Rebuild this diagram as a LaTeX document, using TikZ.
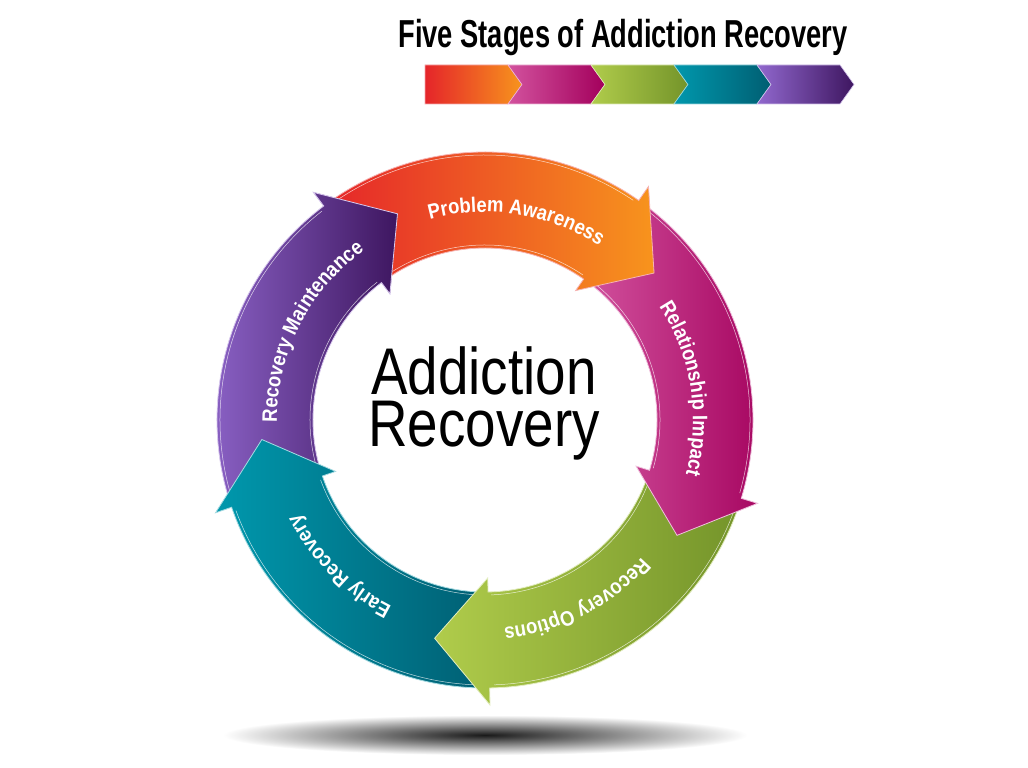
\documentclass[tikz,border=0pt]{standalone}
\usepackage{fontspec}
\setmainfont{Liberation Sans}
\newfontfamily\titlefont{Liberation Sans}[FakeStretch=0.70]
\newfontfamily\hubfont{Liberation Sans}[FakeStretch=0.83]
\newfontfamily\stagefont{Liberation Sans}[FakeStretch=0.88]
\usepackage{xcolor}
\usetikzlibrary{calc, decorations.text}
\definecolor{awareRed}{HTML}{E5252A}
\definecolor{awareOrange}{HTML}{F7941D}
\definecolor{impactLight}{HTML}{D2529E}
\definecolor{impactDark}{HTML}{A3005C}
\definecolor{optionsLight}{HTML}{B0CC4B}
\definecolor{optionsDark}{HTML}{74942A}
\definecolor{earlyLight}{HTML}{0098AD}
\definecolor{earlyDark}{HTML}{005E72}
\definecolor{maintLight}{HTML}{9168CE}
\definecolor{maintDark}{HTML}{3E1660}
\def\Rout{268pt}
\def\Rin{172pt}
\def\Rbarbout{285pt}
\def\Rbarbin{158pt}
\def\Rtip{224pt}
\newcommand{\ringarrow}[4]{%
  \path[stage, left color=#3, right color=#4, draw=#3!35!white]
    (#1:\Rout) arc[start angle=#1, end angle=#2, radius=\Rout]
    -- (#2:\Rbarbout) -- (#2-14:\Rtip) -- (#2:\Rbarbin) -- (#2:\Rin)
    arc[start angle=#2, end angle=#1, radius=\Rin] -- cycle;%
  \draw[stitch] (#1:265pt) arc[start angle=#1, end angle=#2+1, radius=265pt];%
  \draw[stitch] (#1:175pt) arc[start angle=#1, end angle=#2+1, radius=175pt];%
}
\newcommand{\stagelabel}[2]{%
  \path[stagetext={#2}] (#1+45:208pt) arc[start angle=#1+45, end angle=#1-45, radius=208pt];%
}

\begin{document}
\begin{tikzpicture}[x=1pt, y=1pt]
  \tikzset{stage/.style={line width=0.8pt, line join=miter}};
  \tikzset{stitch/.style={white, line width=0.5pt, opacity=0.75}};
  \tikzset{chevron/.style={line width=0.6pt}};
  \tikzset{stagetext/.style={decorate, decoration={text along path, text align=center, text color=white,
    text={|\stagefont\bfseries\fontsize{21}{25}\selectfont|#1}}}};

  \fill[white] (0,0) rectangle (1028,768);
  \useasboundingbox (0,0) rectangle (1028,768);

  % title and chevron bar
  \node (title) [anchor=base, font=\titlefont\bfseries\fontsize{39}{44}\selectfont] at (623,720) {Five Stages of Addiction Recovery};
  \foreach \i/\cl/\cr in {0/awareRed/awareOrange, 1/impactLight/impactDark, 2/optionsLight/optionsDark, 3/earlyLight/earlyDark, 4/maintLight/maintDark} {
    \path[chevron, left color=\cl, right color=\cr, draw=\cl!40!white]
      (425+83*\i,703) -- (508+83*\i,703) -- (522+83*\i,683.5) -- (508+83*\i,664)
      -- (425+83*\i,664) -- ({425+83*\i+14*min(\i,1)},683.5) -- cycle;
  }

  % shadow
  \shade[inner color=black!90, outer color=white] (485,33) ellipse[x radius=262, y radius=20];

  \begin{scope}[shift={(485,348)}]
    % 5 4 3 2 1
    \ringarrow{-161}{-233}{maintLight}{maintDark}
    \ringarrow{-89}{-161}{earlyLight}{earlyDark}
    \ringarrow{-17}{-89}{optionsLight}{optionsDark}
    \ringarrow{55}{-17}{impactLight}{impactDark}
    \ringarrow{127}{55}{awareRed}{awareOrange}

    % 5 over 1
    \begin{scope}
      \clip (0,0) -- (128:320pt) arc[start angle=128, end angle=105, radius=320pt] -- cycle;
      \ringarrow{-161}{-233}{maintLight}{maintDark}
    \end{scope}

    \stagelabel{81}{Problem Awareness}
    \stagelabel{9}{Relationship Impact}
    \stagelabel{-63}{Recovery Options}
    \stagelabel{-135}{Early Recovery}
    \stagelabel{153}{Recovery Maintenance}

    \node (hubtop) [anchor=base, font=\hubfont\fontsize{66}{70}\selectfont] at (-1,25) {Addiction};
    \node (hubbottom) [anchor=base, font=\hubfont\fontsize{66}{70}\selectfont] at (-1,-27) {Recovery};
  \end{scope}
\end{tikzpicture}
\end{document}
